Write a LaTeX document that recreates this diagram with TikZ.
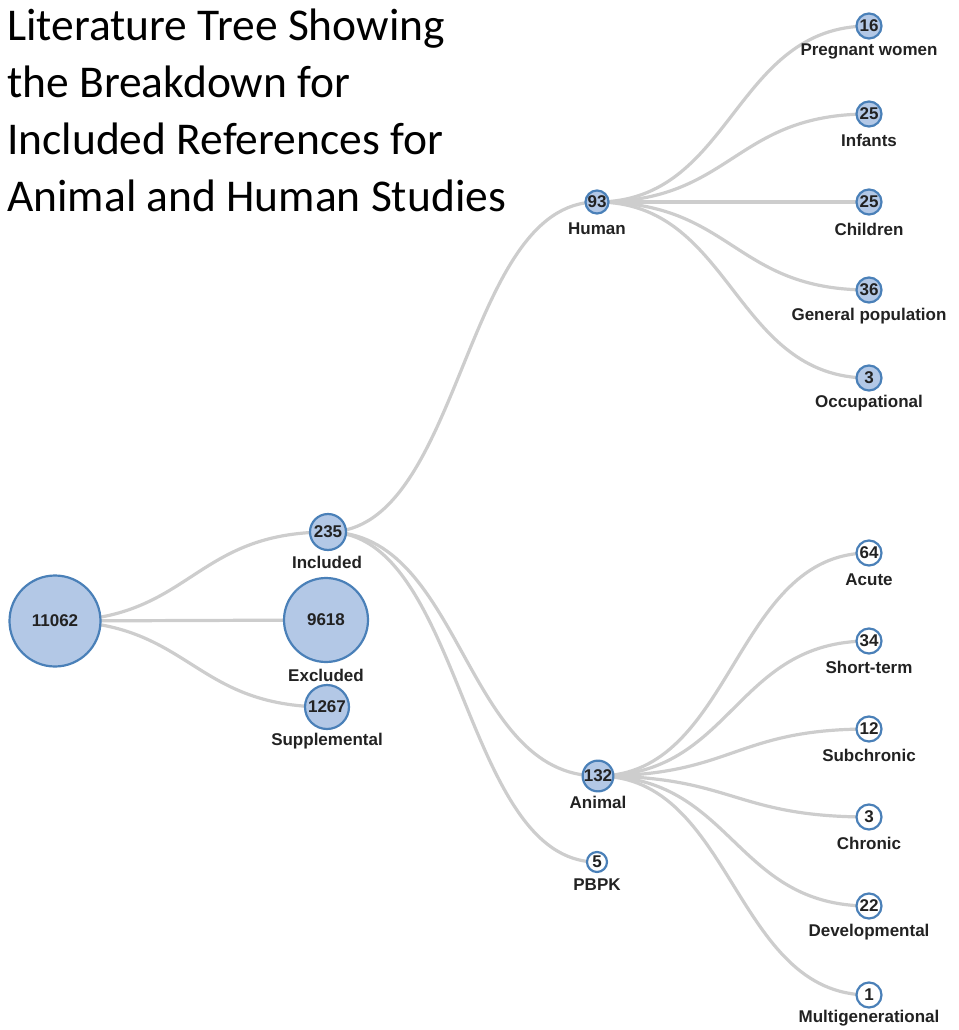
\documentclass[tikz,border=0pt]{standalone}
\usepackage{fontspec}
\setmainfont{Liberation Sans}
\newfontfamily\titlefont{Carlito}
\usetikzlibrary{calc,backgrounds}
\definecolor{nodefill}{HTML}{B3C8E6}
\definecolor{nodeline}{HTML}{4A80B8}
\definecolor{edgecol}{HTML}{CDCDCD}
\definecolor{txt}{HTML}{222222}
\tikzset{
  tn/.style={circle,draw=nodeline,line width=2.2pt,fill=nodefill,inner sep=0pt,
    minimum size=#1,font=\bfseries\fontsize{17}{19}\selectfont,text=txt},
  tw/.style={tn=#1,fill=white},
  lab/.style={font=\bfseries\fontsize{17}{19}\selectfont,text=txt,anchor=center,inner sep=0pt},
  edge/.style={draw=edgecol,line width=3.2pt}
}
\newcommand\tedge[2]{\draw[edge] let \p1=(#1.center), \p2=(#2.center) in (\p1) .. controls ({(\x1+\x2)/2},\y1) and ({(\x1+\x2)/2},\y2) .. (\p2);}
\begin{document}
\begin{tikzpicture}[x=1pt,y=-1pt]
\useasboundingbox (0,0) rectangle (958,1030);
% title
\node[anchor=north west,align=left,inner sep=0pt,font=\titlefont\fontsize{45.5}{57}\selectfont] (title) at (7,9)
 {Literature Tree Showing\\the Breakdown for\\Included References for\\Animal and Human Studies};
% nodes
\node[tn=91] (root) at (55,621) {11062};
\node[tn=36] (inc) at (328,532) {235};
\node[tn=84] (exc) at (326,620) {9618};
\node[tn=44] (sup) at (327,707) {1267};
\node[tn=23] (hum) at (597,202) {93};
\node[tn=27] (ani) at (598,776) {132};
\node[tw=20] (pbpk) at (597,862) {5};
\node[tn=25] (h1) at (869,26) {16};
\node[tn=25] (h2) at (869,114) {25};
\node[tn=25] (h3) at (869,202) {25};
\node[tn=25] (h4) at (869,290) {36};
\node[tn=25] (h5) at (869,378) {3};
\node[tw=25] (a1) at (869,553) {64};
\node[tw=25] (a2) at (869,641) {34};
\node[tw=25] (a3) at (869,729) {12};
\node[tw=25] (a4) at (869,817) {3};
\node[tw=25] (a5) at (869,906) {22};
\node[tw=25] (a6) at (869,995) {1};
% labels
\node[lab] (linc) at (327,562) {Included};
\node[lab] (lexc) at (326,675) {Excluded};
\node[lab] (lsup) at (327,741) {Supplemental};
\node[lab] (lhum) at (597,229) {Human};
\node[lab] (lani) at (598,802) {Animal};
\node[lab] (lpbpk) at (597,885) {PBPK};
\node[lab] (lh1) at (869,51) {Pregnant women};
\node[lab] (lh2) at (869,140) {Infants};
\node[lab] (lh3) at (869,229) {Children};
\node[lab] (lh4) at (869,316) {General population};
\node[lab] (lh5) at (869,403) {Occupational};
\node[lab] (la1) at (869,580) {Acute};
\node[lab] (la2) at (869,667) {Short-term};
\node[lab] (la3) at (869,755) {Subchronic};
\node[lab] (la4) at (869,843) {Chronic};
\node[lab] (la5) at (869,932) {Developmental};
\node[lab] (la6) at (869,1018) {Multigenerational};
% edges
\begin{scope}[on background layer]
\tedge{root}{inc}\tedge{root}{exc}\tedge{root}{sup}
\tedge{inc}{hum}\tedge{inc}{ani}\tedge{inc}{pbpk}
\tedge{hum}{h1}\tedge{hum}{h2}\tedge{hum}{h3}\tedge{hum}{h4}\tedge{hum}{h5}
\tedge{ani}{a1}\tedge{ani}{a2}\tedge{ani}{a3}\tedge{ani}{a4}\tedge{ani}{a5}\tedge{ani}{a6}
\end{scope}
\end{tikzpicture}
\end{document}
